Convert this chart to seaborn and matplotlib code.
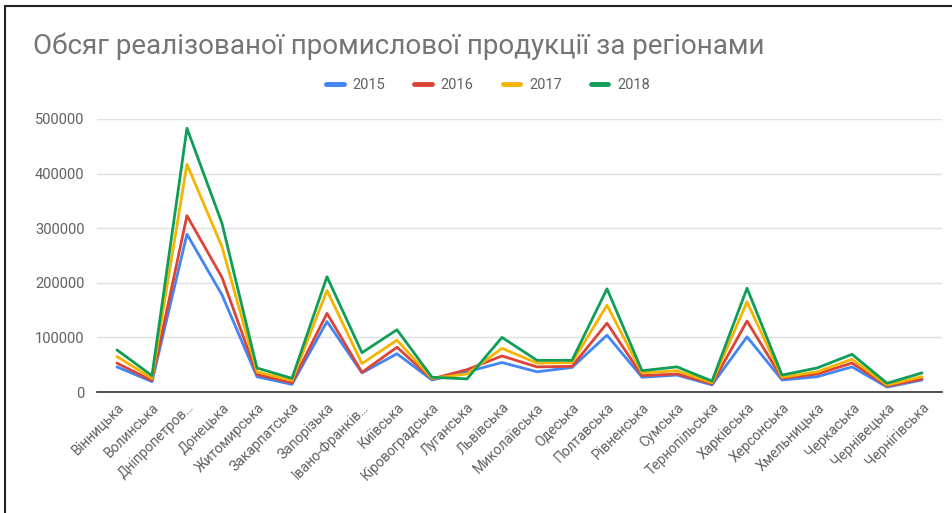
import matplotlib
matplotlib.use("Agg")
import matplotlib.pyplot as plt
import seaborn as sns
import pandas as pd
from matplotlib.lines import Line2D

regions = ["Вінницька", "Волинська", "Дніпропетров…", "Донецька", "Житомирська",
           "Закарпатська", "Запорізька", "Івано-Франків…", "Київська", "Кіровоградська",
           "Луганська", "Львівська", "Миколаївська", "Одеська", "Полтавська",
           "Рівненська", "Сумська", "Тернопільська", "Харківська", "Херсонська",
           "Хмельницька", "Черкаська", "Чернівецька", "Чернігівська"]

v2015 = [46000, 19000, 289000, 178000, 28000, 14000, 129000, 35000, 70000, 22000,
         37000, 54000, 37000, 45000, 104000, 27000, 31000, 13000, 101000, 22000,
         28000, 46000, 9000, 22000]
v2016 = [53000, 21000, 323000, 210000, 32000, 17000, 144000, 36000, 82000, 24000,
         41000, 66000, 46000, 47000, 126000, 30000, 33000, 15000, 130000, 25000,
         33000, 53000, 11000, 24000]
v2017 = [65000, 25000, 417000, 266000, 37000, 21000, 186000, 52000, 95000, 25000,
         33000, 80000, 53000, 54000, 159000, 35000, 39000, 17000, 165000, 27000,
         37000, 60000, 13000, 28000]
v2018 = [77000, 30000, 483000, 309000, 44000, 25000, 211000, 72000, 114000, 27000,
         24000, 100000, 58000, 58000, 189000, 39000, 46000, 20000, 190000, 31000,
         44000, 69000, 16000, 35000]

years = ["2015", "2016", "2017", "2018"]
colors = ["#4285F4", "#DB4437", "#F4B400", "#0F9D58"]

rows = []
for y, vals in zip(years, [v2015, v2016, v2017, v2018]):
    for i, (r, v) in enumerate(zip(regions, vals)):
        rows.append({"idx": i, "region": r, "year": y, "value": v})
df = pd.DataFrame(rows)

sns.set_theme(style="white")
plt.rcParams['font.family'] = ['Roboto', 'DejaVu Sans']

fig = plt.figure(figsize=(9.52, 5.13), dpi=100)
ax = fig.add_axes([97/952, 1 - 392/513, (942-97)/952, (392-119)/513])

sns.lineplot(data=df, x="idx", y="value", hue="year", hue_order=years,
             palette=dict(zip(years, colors)), linewidth=2.0, ax=ax,
             legend=False, sort=False)

ax.set_xlim(-0.57, 23.57)
ax.set_ylim(0, 500000)
ax.set_yticks([0, 100000, 200000, 300000, 400000, 500000])
ax.set_yticklabels(["0", "100000", "200000", "300000", "400000", "500000"])
ax.set_xticks(range(len(regions)))
ax.set_xticklabels(regions, rotation=45, ha="right", rotation_mode="anchor")
ax.tick_params(axis="y", labelsize=10.5, labelcolor="#616161", length=0, pad=9)
ax.tick_params(axis="x", labelsize=10, labelcolor="#616161", length=0, pad=6)
ax.set_xlabel("")
ax.set_ylabel("")
ax.grid(axis="y", color="#e0e0e0", linewidth=1)
ax.grid(axis="x", visible=False)
for s in ["top", "right", "left"]:
    ax.spines[s].set_visible(False)
ax.spines["bottom"].set_color("#333333")
ax.spines["bottom"].set_linewidth(1.2)
ax.set_axisbelow(True)

fig.text(33/952, 1 - 46/513, "Обсяг реалізованої промислової продукції за регіонами",
         fontsize=20, color="#757575", va="center", ha="left")

handles = [Line2D([0], [0], color=c, linewidth=3.5) for c in colors]
fig.legend(handles, years, loc="center", bbox_to_anchor=(488/952, 1 - 85/513),
           ncol=4, frameon=False, fontsize=10.5, labelcolor="#616161",
           handlelength=1.2, handletextpad=0.6, columnspacing=2.0)

# thin frame at the top and left of the picture
fig.add_artist(Line2D([5/952, 1], [1 - 6/513, 1 - 6/513], transform=fig.transFigure,
                      color="#222222", linewidth=1.5))
fig.add_artist(Line2D([5/952, 5/952], [0, 1 - 6/513], transform=fig.transFigure,
                      color="#222222", linewidth=1.5))

fig.savefig("out.png", dpi=100, facecolor="white")
